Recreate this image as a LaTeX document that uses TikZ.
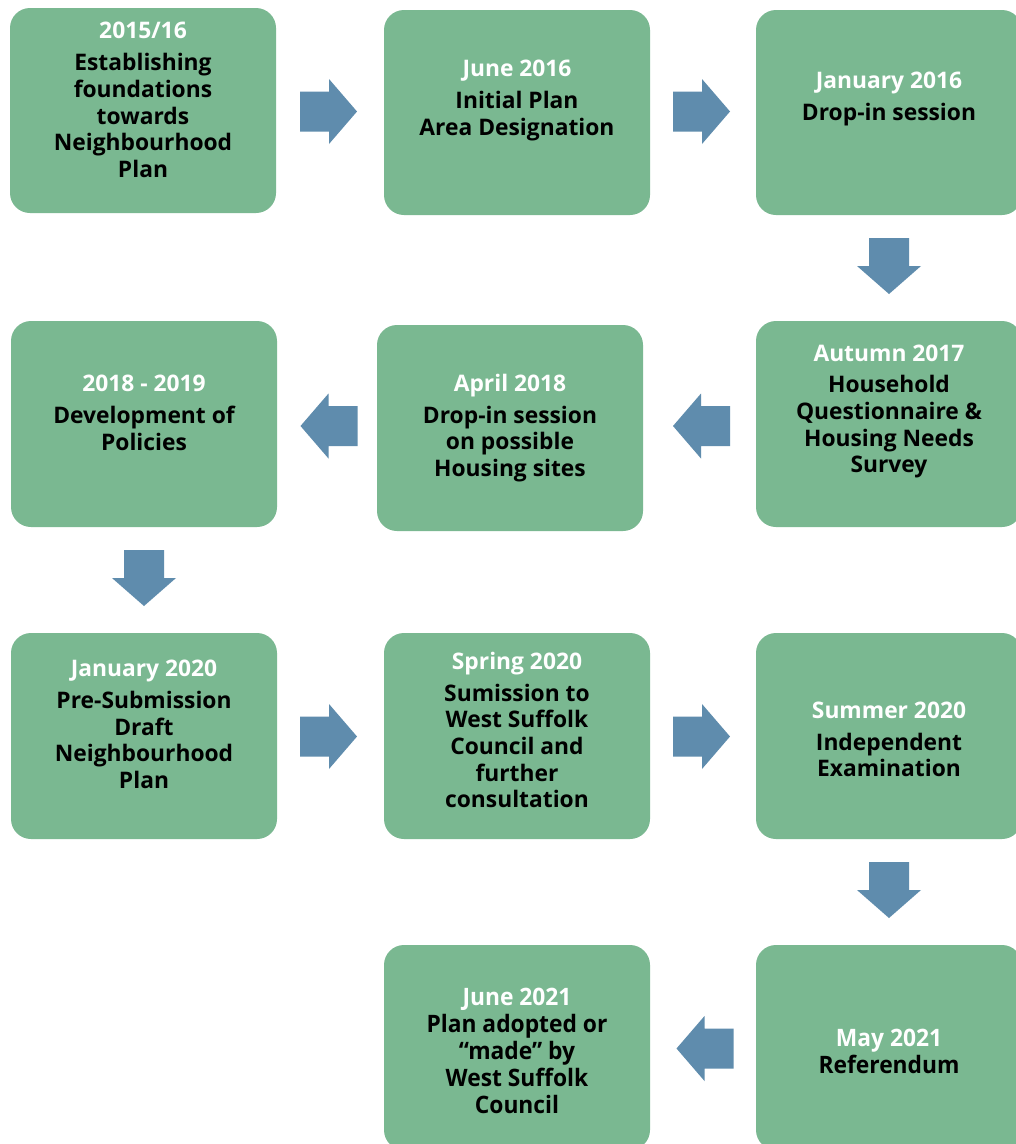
\documentclass[tikz,border=0pt]{standalone}
\usepackage{fontspec}
\setmainfont{Open Sans}[BoldFont={* Bold}]
\newfontfamily\condfont{Open Sans}[BoldFont={* Bold},FakeStretch=0.95]
\definecolor{boxgreen}{HTML}{7AB891}
\definecolor{arrowblue}{HTML}{5F8CAD}
\begin{document}
\begin{tikzpicture}[x=1pt,y=-1pt,
  stepbox/.style={fill=boxgreen, draw=none, rounded corners=20pt, inner sep=0pt,
    minimum width=266pt, minimum height=205pt},
  steptext/.style={align=center, inner sep=0pt,
    font=\fontsize{22.8}{26.7}\selectfont\bfseries},
  condtext/.style={align=center, inner sep=0pt,
    font=\fontsize{24}{27}\selectfont\condfont\bfseries},
  rarrow/.pic={\fill[arrowblue] (-28.5,-20) -- (0.5,-20) -- (0.5,-32.5) -- (28.5,0) -- (0.5,32.5) -- (0.5,20) -- (-28.5,20) -- cycle;},
  larrow/.pic={\fill[arrowblue] (28.5,-20) -- (-0.5,-20) -- (-0.5,-32.5) -- (-28.5,0) -- (-0.5,32.5) -- (-0.5,20) -- (28.5,20) -- cycle;},
  darrow/.pic={\fill[arrowblue] (-20,-28) -- (-20,0) -- (-32,0) -- (0,28) -- (32,0) -- (20,0) -- (20,-28) -- cycle;}
]
\clip (0,0) rectangle (1016,1144);
\fill[white] (0,0) rectangle (1016,1144);

% boxes
\node[stepbox] (b1) at (143,110.5) {};
\node[stepbox] (b2) at (517,112.5) {};
\node[stepbox] (b3) at (889,112.5) {};
\node[stepbox, minimum height=206pt] (b4) at (144,424) {};
\node[stepbox, minimum height=206pt] (b5) at (510,428) {};
\node[stepbox, minimum height=206pt] (b6) at (889,424) {};
\node[stepbox, minimum height=206pt] (b7) at (144,736) {};
\node[stepbox, minimum height=206pt] (b8) at (517,736) {};
\node[stepbox, minimum height=206pt] (b9) at (889,736) {};
\node[stepbox] (b10) at (517,1047.5) {};
\node[stepbox] (b11) at (889,1047.5) {};

% texts
\node[steptext] (t1) at (143,100) {\textcolor{white}{2015/16}\\[5pt]Establishing\\foundations\\towards\\Neighbourhood\\Plan};
\node[steptext] (t2) at (517,100.5) {\textcolor{white}{June 2016}\\[5pt]Initial Plan\\Area Designation};
\node[steptext] (t3) at (889,99) {\textcolor{white}{January 2016}\\[5pt]Drop-in session};
\node[steptext] (t4) at (144,413) {\textcolor{white}{2018 - 2019}\\[5pt]Development of\\Policies};
\node[steptext] (t5) at (510,428) {\textcolor{white}{April 2018}\\[5pt]Drop-in session\\on possible\\Housing sites};
\node[steptext] (t6) at (889,411.5) {\textcolor{white}{Autumn 2017}\\[5pt]Household\\Questionnaire \&\\Housing Needs\\Survey};
\node[steptext] (t7) at (144,724.5) {\textcolor{white}{January 2020}\\[5pt]Pre-Submission\\Draft\\Neighbourhood\\Plan};
\node[steptext] (t8) at (517,730) {\textcolor{white}{Spring 2020}\\[5pt]Sumission to\\West Suffolk\\Council and\\further\\consultation};
\node[steptext] (t9) at (889,739.5) {\textcolor{white}{Summer 2020}\\[5pt]Independent\\Examination};
\node[condtext] (t10) at (517,1051) {\textcolor{white}{June 2021}\\Plan adopted or\\“made” by\\West Suffolk\\Council};
\node[condtext] (t11) at (889,1051) {\textcolor{white}{May 2021}\\Referendum};

% arrows
\coordinate (a1) at (328.5,111.5);
\coordinate (a2) at (701.5,111.5);
\coordinate (a3) at (889,266);
\coordinate (a4) at (701.5,426);
\coordinate (a5) at (329,426);
\coordinate (a6) at (144,578);
\coordinate (a7) at (328.5,736.5);
\coordinate (a8) at (701.5,736.5);
\coordinate (a9) at (889,890);
\coordinate (a10) at (705,1048.5);
\pic at (a1) {rarrow};
\pic at (a2) {rarrow};
\pic at (a3) {darrow};
\pic at (a4) {larrow};
\pic at (a5) {larrow};
\pic at (a6) {darrow};
\pic at (a7) {rarrow};
\pic at (a8) {rarrow};
\pic at (a9) {darrow};
\pic at (a10) {larrow};
\end{tikzpicture}
\end{document}
